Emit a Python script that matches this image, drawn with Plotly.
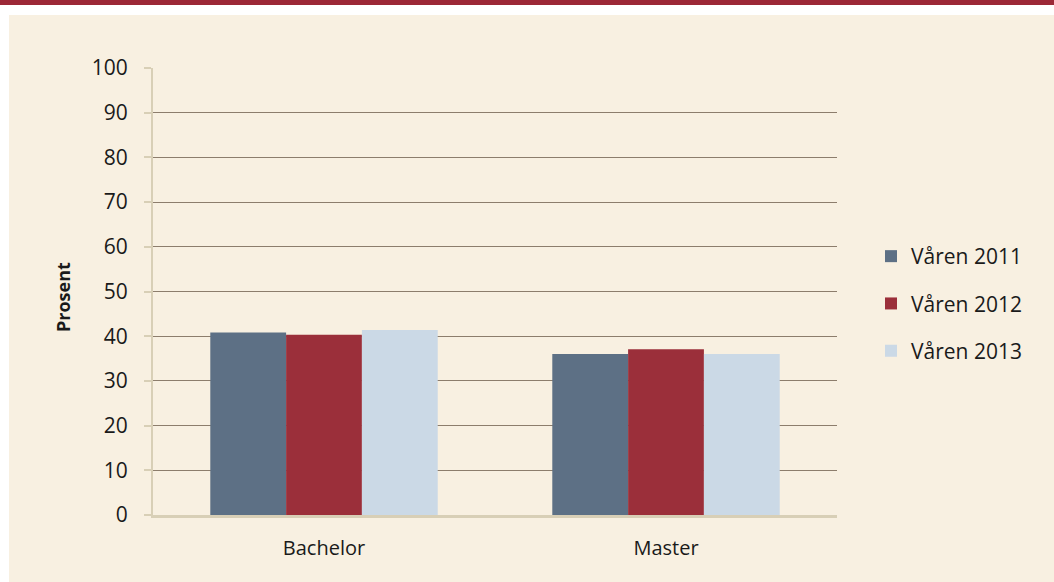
import plotly.graph_objects as go

categories = ["Bachelor", "Master"]
series_names = ["Våren 2011", "Våren 2012", "Våren 2013"]
values_2011 = [40.8, 36.0]
values_2012 = [40.3, 37.1]
values_2013 = [41.4, 36.0]
y_ticks = [0, 10, 20, 30, 40, 50, 60, 70, 80, 90, 100]
y_title = "Prosent"

colors = ["#5d7085", "#9b2f3a", "#cbd9e6"]
BEIGE = "#f8f0e1"
RED = "#9c2837"

W, H = 1054, 582
L, R, T, B = 153, 837, 68, 515
pw, ph = R - L, B - T

def px(x):
    return (x - L) / pw

def py(y):
    return (B - y) / ph

fig = go.Figure()
for name, vals, col in zip(series_names, [values_2011, values_2012, values_2013], colors):
    fig.add_trace(go.Bar(
        x=categories, y=vals, name=name, marker_color=col,
        marker_line_width=0, legendgroup=name,
    ))

shapes = [
    dict(type="rect", xref="paper", yref="paper", x0=px(-5), x1=px(9), y0=py(600), y1=py(-5),
         fillcolor="white", line_width=0, layer="below"),
    dict(type="rect", xref="paper", yref="paper", x0=px(-5), x1=px(1060), y0=py(15), y1=py(-5),
         fillcolor="white", line_width=0, layer="below"),
    dict(type="rect", xref="paper", yref="paper", x0=px(-5), x1=px(1060), y0=py(5), y1=py(-5),
         fillcolor=RED, line_width=0, layer="below"),
]

fig.update_layout(
    width=W, height=H,
    margin=dict(l=L, r=W - R, t=T, b=H - B, pad=0),
    paper_bgcolor=BEIGE, plot_bgcolor=BEIGE,
    barmode="group", bargap=0.335, bargroupgap=0,
    font=dict(family="Open Sans", size=20, color="#1a1a1a"),
    shapes=shapes,
    legend=dict(
        x=px(871), y=py(236), xanchor="left", yanchor="top",
        bgcolor="rgba(0,0,0,0)", font=dict(size=21),
        tracegroupgap=17, itemwidth=30,
    ),
    annotations=[dict(
        text="<b>" + y_title + "</b>", textangle=-90, xref="paper", yref="paper",
        x=px(63), y=py(297), xanchor="center", yanchor="middle",
        showarrow=False, font=dict(size=18, color="#1a1a1a"),
    )],
)

fig.update_yaxes(
    range=[0, 100], tickvals=y_ticks, ticktext=[str(v) for v in y_ticks],
    showgrid=True, gridcolor="#8c7d6c", gridwidth=1,
    showline=True, linecolor="#d8cfb6", linewidth=2,
    ticks="outside", ticklen=7, tickcolor="#d8cfb6", tickwidth=2,
    ticklabelstandoff=12, zeroline=False, fixedrange=True,
    tickfont=dict(size=21),
)
fig.update_xaxes(
    showline=True, linecolor="#d8cfb6", linewidth=3,
    ticks="", ticklabelstandoff=13, showgrid=False, fixedrange=True,
)

fig.write_html(
    "out.html",
    config={"displayModeBar": False},
    post_script=(
        "document.body.style.margin='0';document.body.style.padding='0';"
        "document.body.style.background='" + BEIGE + "';"
        "document.body.style.overflow='hidden';"
    ),
)
